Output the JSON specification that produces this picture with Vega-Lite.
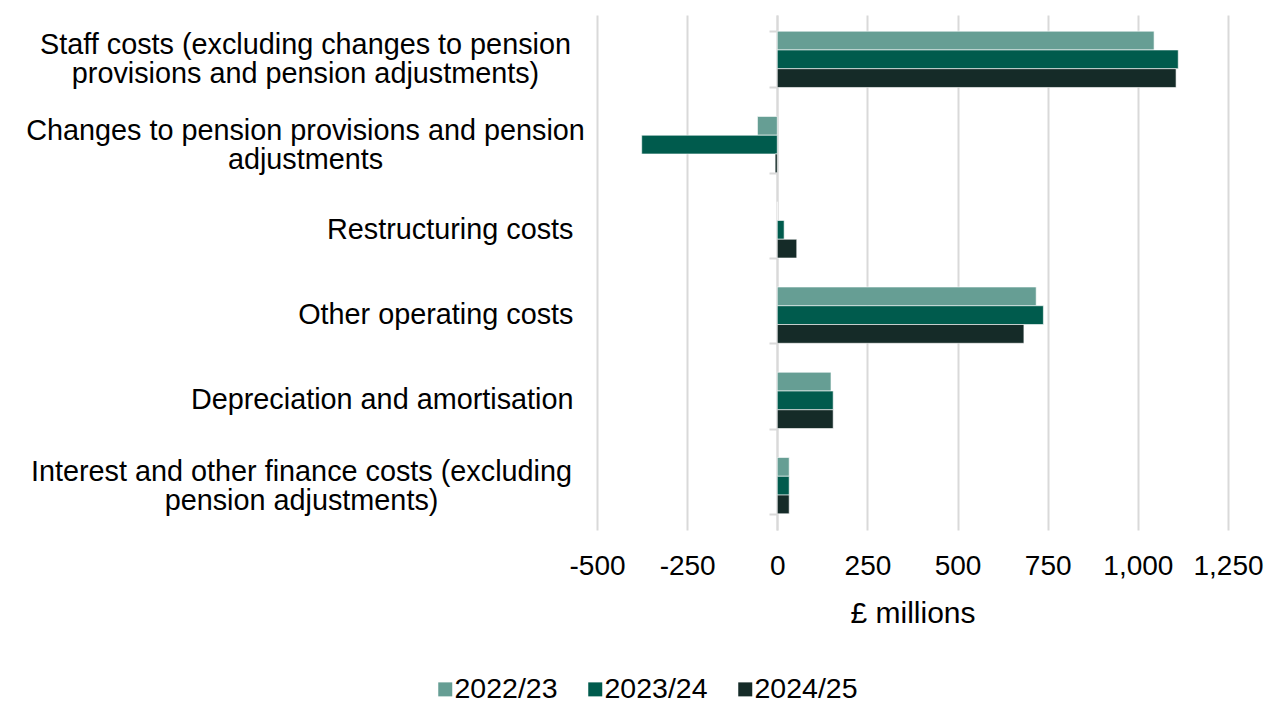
{
  "$schema": "https://vega.github.io/schema/vega-lite/v6.json",
  "width": 631,
  "height": 515,
  "autosize": "none",
  "padding": {"left": 597, "top": 15, "right": 36, "bottom": 172},
  "background": "white",
  "data": {
    "values": [
      {"category": "Staff costs (excluding changes to pension|provisions and pension adjustments)", "year": "2022/23", "value": 1045},
      {"category": "Staff costs (excluding changes to pension|provisions and pension adjustments)", "year": "2023/24", "value": 1112},
      {"category": "Staff costs (excluding changes to pension|provisions and pension adjustments)", "year": "2024/25", "value": 1106},
      {"category": "Changes to pension provisions and pension|adjustments", "year": "2022/23", "value": -55},
      {"category": "Changes to pension provisions and pension|adjustments", "year": "2023/24", "value": -376},
      {"category": "Changes to pension provisions and pension|adjustments", "year": "2024/25", "value": -6},
      {"category": "Restructuring costs", "year": "2022/23", "value": 0},
      {"category": "Restructuring costs", "year": "2023/24", "value": 19},
      {"category": "Restructuring costs", "year": "2024/25", "value": 54},
      {"category": "Other operating costs", "year": "2022/23", "value": 718},
      {"category": "Other operating costs", "year": "2023/24", "value": 738},
      {"category": "Other operating costs", "year": "2024/25", "value": 684},
      {"category": "Depreciation and amortisation", "year": "2022/23", "value": 149},
      {"category": "Depreciation and amortisation", "year": "2023/24", "value": 155},
      {"category": "Depreciation and amortisation", "year": "2024/25", "value": 155},
      {"category": "Interest and other finance costs (excluding|pension adjustments)", "year": "2022/23", "value": 33},
      {"category": "Interest and other finance costs (excluding|pension adjustments)", "year": "2023/24", "value": 33},
      {"category": "Interest and other finance costs (excluding|pension adjustments)", "year": "2024/25", "value": 33}
    ]
  },
  "config": {
    "font": "Liberation Sans",
    "view": {"stroke": null},
    "axis": {"labelFont": "Liberation Sans", "titleFont": "Liberation Sans", "labelColor": "#000000", "titleColor": "#000000", "titleFontWeight": "normal"},
    "legend": {"labelFont": "Liberation Sans"}
  },
  "resolve": {"axis": {"y": "independent"}},
  "layer": [
    {
      "mark": {"type": "bar", "stroke": "white", "strokeWidth": 0.6},
      "encoding": {
        "y": {
          "field": "category",
          "type": "nominal",
          "sort": null,
          "scale": {"paddingInner": 0.34, "paddingOuter": 0.19},
          "axis": {
            "orient": "left",
            "title": null,
            "domain": false,
            "ticks": false,
            "grid": false,
            "labelFontSize": 28.8,
            "labelLimit": 700,
            "labelLineHeight": 29,
            "labelExpr": "split(datum.value, '|')",
            "labelAlign": {"condition": {"test": "indexof(datum.value, '|') >= 0", "value": "center"}, "value": "right"},
            "labelOffset": {"condition": {"test": "indexof(datum.value, '|') >= 0", "value": -14}, "value": 0},
            "labelPadding": {"expr": "datum && indexof(datum.value, '|') >= 0 ? (indexof(datum.value, 'Interest') >= 0 ? 296 : 292) : 24"}
          }
        },
        "yOffset": {"field": "year", "type": "nominal", "scale": {"paddingInner": 0}},
        "x": {
          "field": "value",
          "type": "quantitative",
          "scale": {"domain": [-500, 1250], "nice": false, "zero": false},
          "axis": {
            "title": "£ millions",
            "titleFontSize": 30,
            "titlePadding": 18,
            "values": [-500, -250, 0, 250, 500, 750, 1000, 1250],
            "labelExpr": "datum.value < 0 ? '-' + format(-datum.value, ',') : format(datum.value, ',')",
            "labelOverlap": false,
            "labelFlush": false,
            "labelFontSize": 28,
            "labelPadding": 22,
            "domain": false,
            "ticks": false,
            "grid": true,
            "gridColor": "#D9D9D9",
            "gridWidth": 2
          }
        },
        "color": {
          "field": "year",
          "type": "nominal",
          "scale": {"domain": ["2022/23", "2023/24", "2024/25"], "range": ["#669E94", "#005B4D", "#152B28"]},
          "legend": {
            "title": null,
            "orient": "none",
            "direction": "horizontal",
            "legendX": -166,
            "legendY": 660,
            "symbolType": "square",
            "symbolSize": 196,
            "symbolStrokeWidth": 0,
            "labelFontSize": 28.5,
            "labelOffset": -5,
            "columnPadding": 23,
            "labelColor": "#000000"
          }
        }
      }
    },
    {
      "mark": {"type": "rule", "opacity": 0},
      "encoding": {
        "x": {"datum": 0},
        "y": {
          "field": "category",
          "type": "nominal",
          "sort": null,
          "axis": {
            "orient": "left",
            "offset": -180,
            "title": null,
            "labels": false,
            "grid": false,
            "domain": true,
            "domainColor": "#D9D9D9",
            "domainWidth": 2,
            "ticks": true,
            "tickBand": "extent",
            "tickColor": "#D9D9D9",
            "tickWidth": 2,
            "tickSize": 8
          }
        }
      }
    }
  ]
}
